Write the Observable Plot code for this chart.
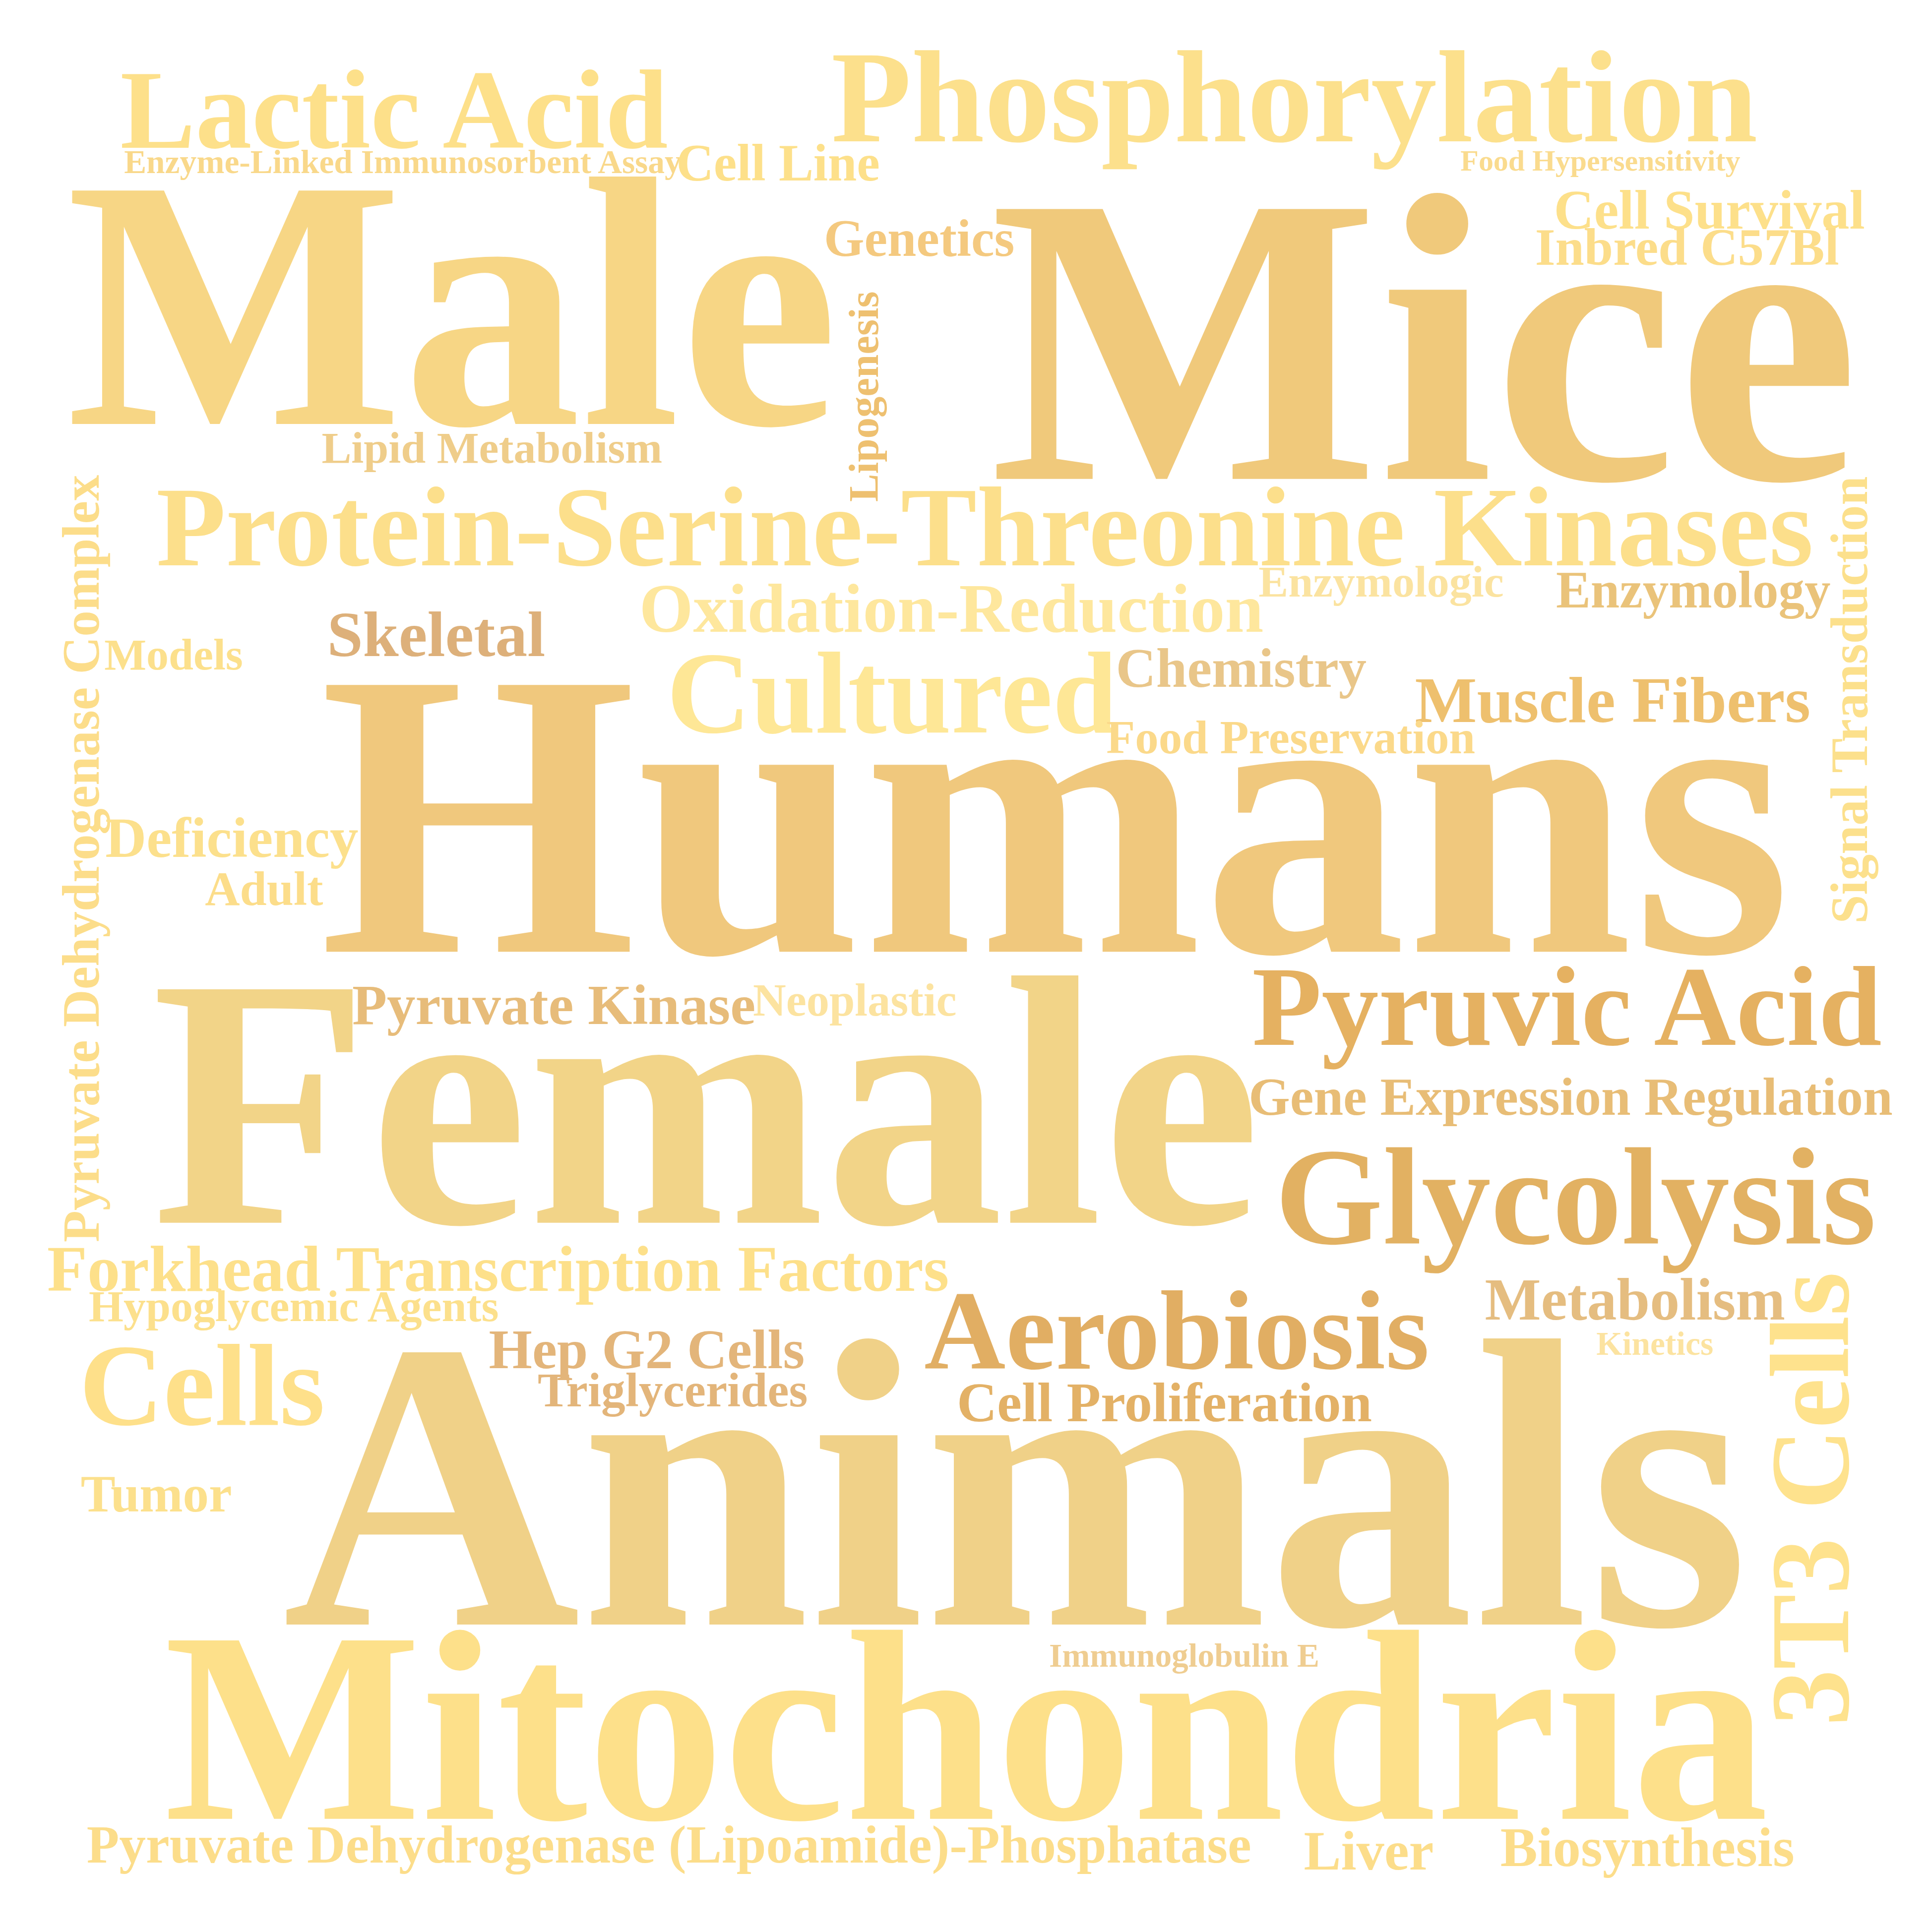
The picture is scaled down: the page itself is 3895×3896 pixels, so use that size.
<!DOCTYPE html>
<html>
<head>
<meta charset="utf-8">
<script src="https://cdn.jsdelivr.net/npm/d3@7"></script>
<script src="https://cdn.jsdelivr.net/npm/@observablehq/plot@0.6"></script>
<style>body{margin:0;background:#fff}</style>
</head>
<body>
<div id="chart"></div>
<script>
// word cloud layout (units of a 1560px square)
const words = ["Lactic Acid","Phosphorylation","Enzyme-Linked Immunosorbent Assay","Cell Line","Food Hypersensitivity",
  "Male","Mice","Genetics","Cell Survival","Inbred C57Bl","Lipogenesis","Lipid Metabolism",
  "Protein-Serine-Threonine Kinases","Pyruvate Dehydrogenase Complex","Signal Transduction","Enzymologic","Enzymology",
  "Oxidation-Reduction","Models","Skeletal","Chemistry","Cultured","Muscle Fibers","Food Preservation","Humans",
  "Deficiency","Adult","Pyruvic Acid","Pyruvate Kinase","Neoplastic","Female","Gene Expression Regulation","Glycolysis",
  "Forkhead Transcription Factors","Hypoglycemic Agents","3T3 Cells","Metabolism","Kinetics","Aerobiosis","Hep G2 Cells",
  "Triglycerides","Cell Proliferation","Cells","Tumor","Animals","Immunoglobulin E","Mitochondria",
  "Pyruvate Dehydrogenase (Lipoamide)-Phosphatase","Liver","Biosynthesis"];
const xs = [318,1045,325,628,1292, 365,1150,742,1380,1362,698,397, 795,66,1494,1115,1367, 768,140,352,1002,720,1302,1042,852,
  187,213,1265,447,690,570,1268,1272, 402,237,1463,1320,1336,950,522, 543,940,163,126,820,956,780, 540,1105,1330];
const ys = [90,80,131,132,130, 250,280,193,170,200,320,362, 427,693,565,470,477, 492,529,513,540,561,566,596,663,
  677,718,814,812,808,895,886,968, 1025,1055,1210,1050,1085,1076,1090, 1123,1133,1120,1207,1205,1337,1398, 1490,1495,1492];
const sizes = [91,106,27,42,24, 288,333,42,45,42,34,36, 92,42,42,36,42, 56,36,52,45,94,53,38,329,
  46,39,92,46,37,288,43,112, 53,36,91,48,27,91,45, 39,45,94,42,333,27,220, 43,45,45];
const angles = words.map(w => ["Lipogenesis","Pyruvate Dehydrogenase Complex","Signal Transduction","3T3 Cells"].includes(w) ? -90 : 0);
const colors = ["#FDE08A","#FCE08C","#F9D88A","#FDE08A","#FADB8E", "#F7D685","#F0C97B","#F4C97F","#FDE08A","#FCDD8A","#EEC070","#EFCD8A",
  "#FCDF8B","#FCDD8A","#FCE08C","#FBE3A0","#EAC37A", "#FEE79D","#FCE08C","#DDB07A","#E9C689","#FEE796","#EEC06E","#FBD98A","#F0C87D",
  "#FCE08C","#FCDD8A","#E5B161","#E7BC7A","#FCE3A0","#F2D488","#E8BD76","#E2B162", "#FDE08A","#FCE08C","#FEE28D","#E5BD80","#FCE3A0","#E1AE63","#E3B57A",
  "#E3B57A","#E3B166","#FEE08A","#FCE08C","#F0D188","#EFCD91","#FDE08A", "#FCDD8A","#FCDD8A","#FCDD8A"];

const k = 3895 / 1560;
const data = words.map((w, i) => ({word: w, x: xs[i], y: ys[i], size: sizes[i] * k, angle: angles[i], color: colors[i]}));

const chart = Plot.plot({
  width: 3895,
  height: 3896,
  margin: 0,
  x: {domain: [0, 1560], axis: null},
  y: {domain: [0, 1560], reverse: true, axis: null},
  style: {background: "#fff", fontFamily: "Liberation Serif"},
  marks: data.map(d => Plot.text([d], {
    x: "x", y: "y", text: "word",
    fontSize: d.size, rotate: d.angle, fill: d.color,
    fontWeight: "bold", textAnchor: "middle", lineAnchor: "middle"
  }))
});
document.getElementById("chart").append(chart);
</script>
</body>
</html>
